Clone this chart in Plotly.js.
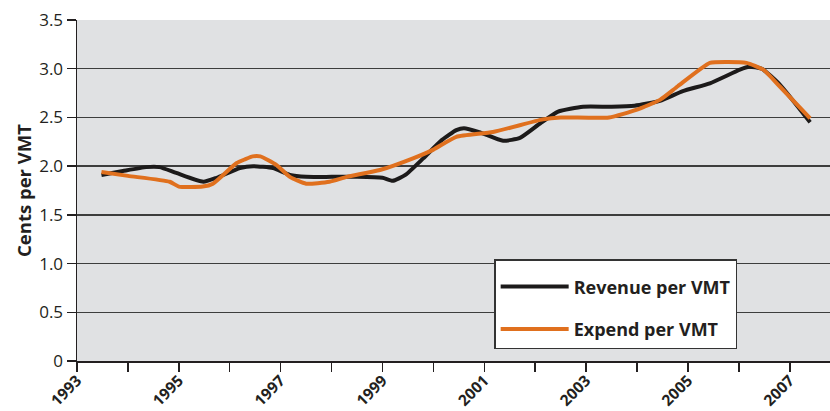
<!DOCTYPE html>
<html>
<head>
<meta charset="utf-8">
<script src="https://cdn.plot.ly/plotly-3.0.1.min.js"></script>
<style>html,body{margin:0;padding:0;background:#fff;}#chart{width:830px;height:411px;}</style>
</head>
<body>
<div id="chart"></div>
<script>
// Revenue per VMT (cents)
const revYears = [1993.48, 1993.9, 1994.36, 1994.62, 1994.95, 1995.48, 1995.74, 1996.2, 1996.46, 1996.85, 1997.18, 1997.5, 1998.0, 1998.5, 1999.0, 1999.2, 1999.45, 1999.8, 2000.17, 2000.45, 2000.6, 2000.9, 2001.37, 2001.7, 2002.1, 2002.45, 2002.94, 2003.5, 2003.95, 2004.45, 2004.9, 2005.43, 2006.02, 2006.2, 2006.45, 2006.8, 2007.4];
const revenue = [1.91, 1.95, 1.99, 1.99, 1.93, 1.84, 1.88, 1.98, 2.00, 1.98, 1.91, 1.89, 1.89, 1.89, 1.88, 1.85, 1.91, 2.08, 2.27, 2.37, 2.39, 2.35, 2.26, 2.29, 2.44, 2.56, 2.61, 2.61, 2.62, 2.67, 2.77, 2.85, 2.99, 3.02, 3.00, 2.84, 2.45];
// Expenditure per VMT (cents)
const expYears = [1993.48, 1994.0, 1994.82, 1995.0, 1995.47, 1995.67, 1996.13, 1996.3, 1996.45, 1996.6, 1996.92, 1997.18, 1997.5, 1997.96, 1998.3, 1998.95, 1999.6, 2000.0, 2000.45, 2001.17, 2002.15, 2002.5, 2003.45, 2004.0, 2004.45, 2004.8, 2005.43, 2005.76, 2006.15, 2006.48, 2006.8, 2007.4];
const expend = [1.94, 1.90, 1.84, 1.79, 1.79, 1.82, 2.03, 2.07, 2.10, 2.10, 2.01, 1.89, 1.82, 1.84, 1.89, 1.96, 2.08, 2.17, 2.30, 2.35, 2.48, 2.50, 2.50, 2.58, 2.68, 2.82, 3.06, 3.07, 3.06, 2.99, 2.82, 2.49];
// Axis ticks
const xTickVals = [1993,1994,1995,1996,1997,1998,1999,2000,2001,2002,2003,2004,2005,2006,2007];
const xTickText = ['1993','','1995','','1997','','1999','','2001','','2003','','2005','','2007'];
const yTickVals = [0,0.5,1,1.5,2,2.5,3,3.5];
const yTickText = ['0','0.5','1.0','1.5','2.0','2.5','3.0','3.5'];

const FONT = '"Open Sans", "Noto Sans", sans-serif';
const traces = [
  {x: revYears, y: revenue, name: 'Revenue per VMT', type: 'scatter', mode: 'lines',
   line: {color: '#1c1a1a', width: 4, shape: 'spline', smoothing: 0.5}, legendgroup: 'a'},
  {x: expYears, y: expend, name: 'Expend per VMT', type: 'scatter', mode: 'lines',
   line: {color: '#e0701e', width: 4, shape: 'spline', smoothing: 0.5}, legendgroup: 'b'}
];
const layout = {
  width: 830, height: 411,
  margin: {l: 77, r: 0, t: 20, b: 50},
  paper_bgcolor: '#ffffff',
  plot_bgcolor: '#e0e1e3',
  font: {family: FONT, color: '#231f20'},
  xaxis: {
    range: [1993, 2007.79], tickvals: xTickVals, ticktext: xTickText,
    tickangle: -45, ticks: 'outside', ticklen: 9, tickwidth: 1.5, tickcolor: '#231f20',
    tickfont: {size: 15.5, family: FONT, weight: 'bold'}, ticklabelstandoff: -6,
    showgrid: false, zeroline: false, showline: true, linecolor: '#231f20', linewidth: 1.5,
    fixedrange: true
  },
  yaxis: {
    range: [0, 3.5], tickvals: yTickVals, ticktext: yTickText,
    ticks: 'outside', ticklen: 9, tickwidth: 1.5, tickcolor: '#231f20',
    tickfont: {size: 17, family: FONT},
    showgrid: true, gridcolor: '#3d3d3d', gridwidth: 1.5,
    zeroline: false, showline: true, linecolor: '#231f20', linewidth: 1.5,
    title: {text: 'Cents per VMT', font: {size: 18.5, family: FONT, weight: 'bold'}, standoff: 2},
    fixedrange: true
  },
  showlegend: true,
  legend: {
    x: 0.554, y: 0.299, xanchor: 'left', yanchor: 'top',
    bgcolor: '#ffffff', bordercolor: '#333333', borderwidth: 1.5,
    font: {size: 18, family: FONT, weight: 'bold'},
    title: {text: ' ', font: {size: 6}},
    traceorder: 'grouped', tracegroupgap: 16, itemwidth: 68
  }
};
Plotly.newPlot('chart', traces, layout, {displayModeBar: false, staticPlot: true});
</script>
</body>
</html>
